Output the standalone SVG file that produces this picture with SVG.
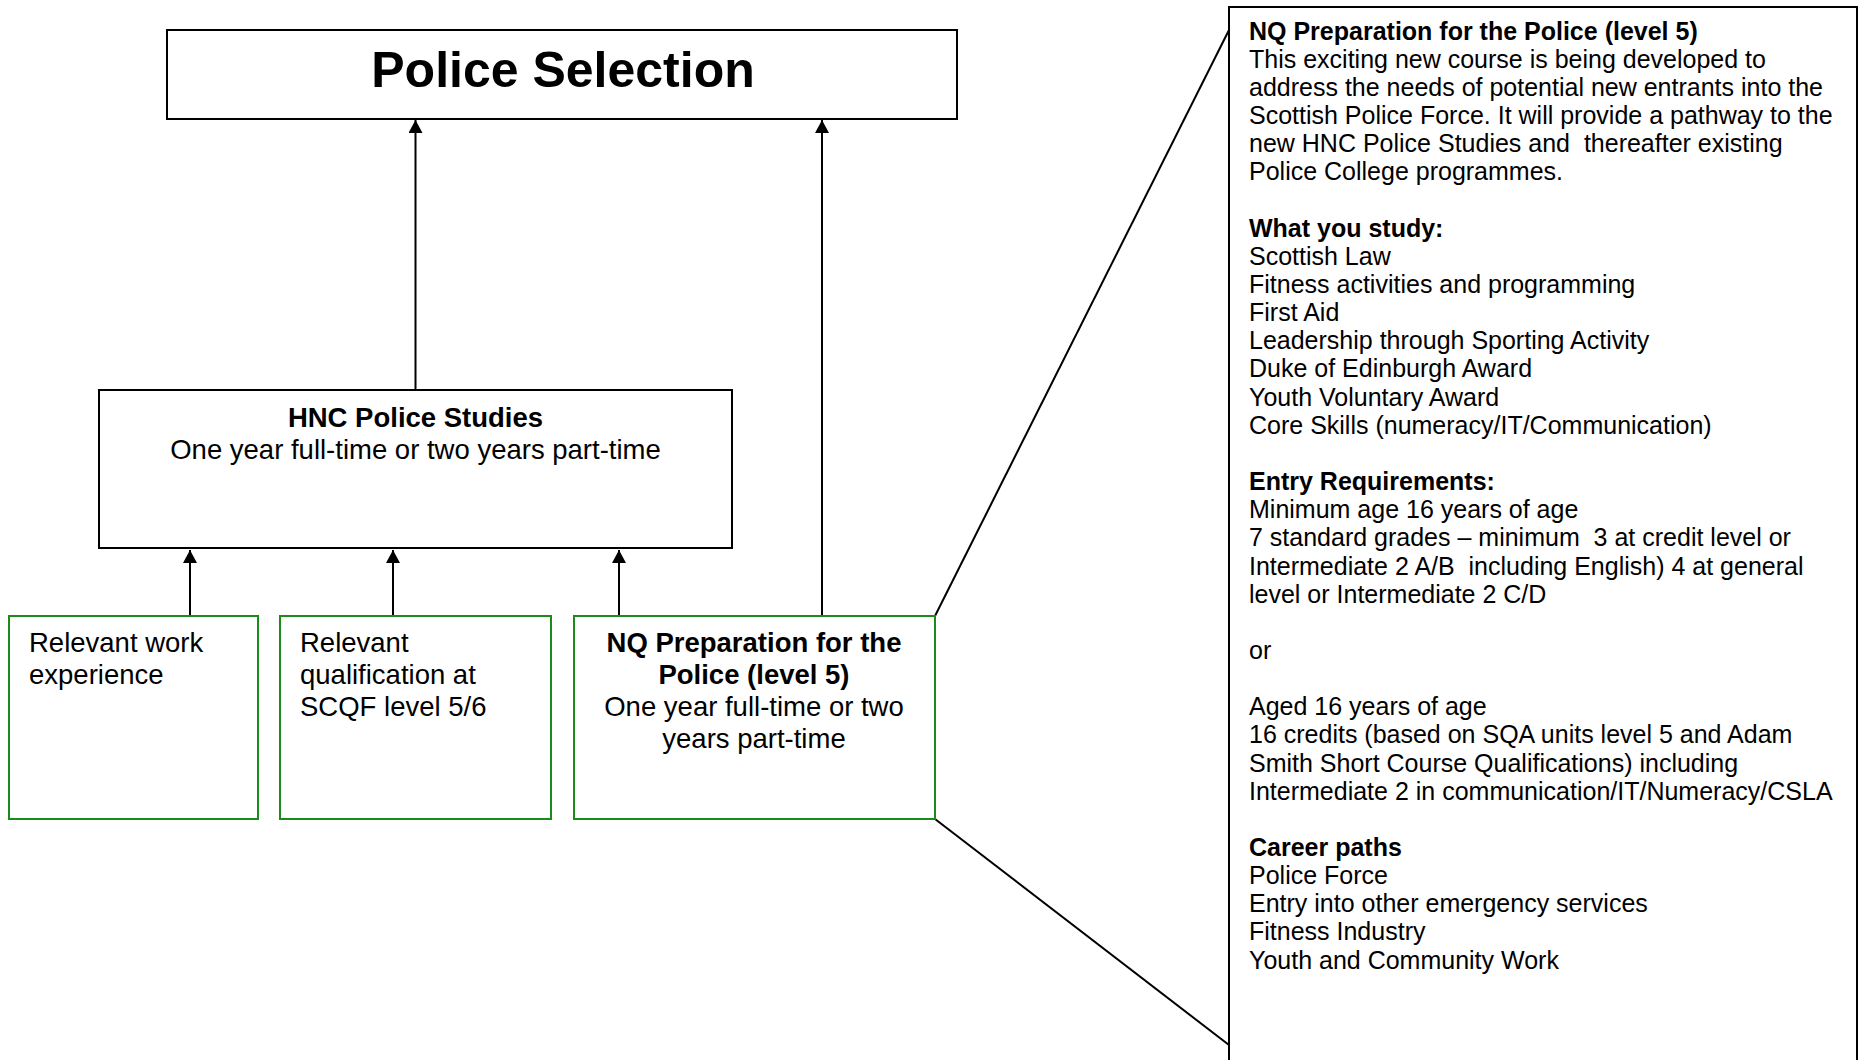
<svg xmlns="http://www.w3.org/2000/svg" width="1862" height="1060" viewBox="0 0 1862 1060">
<defs>
<style>
.box{fill:#fff;stroke:#000;stroke-width:2}
.gbox{fill:#fff;stroke:#1a8c1a;stroke-width:2}
.t{font-family:"Liberation Sans",Arial,sans-serif;fill:#000}
.b{font-weight:bold}
.conn{stroke:#000;stroke-width:2;fill:none}
</style>
<marker id="ah" viewBox="0 0 13 14" refX="13" refY="7" markerWidth="13" markerHeight="14" markerUnits="userSpaceOnUse" orient="auto">
<path d="M0,0 L13,7 L0,14 Z" fill="#000"/>
</marker>
</defs>
<rect width="1862" height="1060" fill="#fff"/>

<g id="connectors">
<line class="conn" x1="415.5" y1="390" x2="415.5" y2="120" marker-end="url(#ah)"/>
<line class="conn" x1="822" y1="616" x2="822" y2="120" marker-end="url(#ah)"/>
<line class="conn" x1="190" y1="616" x2="190" y2="550" marker-end="url(#ah)"/>
<line class="conn" x1="393" y1="616" x2="393" y2="550" marker-end="url(#ah)"/>
<line class="conn" x1="619" y1="616" x2="619" y2="550" marker-end="url(#ah)"/>
<line class="conn" x1="935" y1="616" x2="1229" y2="30"/>
<line class="conn" x1="935" y1="819" x2="1229" y2="1045"/>
</g>

<g id="police-selection">
<rect class="box" x="167" y="30" width="790" height="89"/>
<text class="t b" x="563" y="87" font-size="50" text-anchor="middle">Police Selection</text>
</g>

<g id="hnc">
<rect class="box" x="99" y="390" width="633" height="158"/>
<text class="t" x="415.5" font-size="27.5" text-anchor="middle"><tspan class="b" x="415.5" y="427">HNC Police Studies</tspan><tspan x="415.5" y="459">One year full-time or two years part-time</tspan></text>
</g>

<g id="work-experience">
<rect class="gbox" x="9" y="616" width="249" height="203"/>
<text class="t" font-size="27.5"><tspan x="29" y="652">Relevant work</tspan><tspan x="29" y="684">experience</tspan></text>
</g>

<g id="qualification">
<rect class="gbox" x="280" y="616" width="271" height="203"/>
<text class="t" font-size="27.5"><tspan x="300" y="652">Relevant</tspan><tspan x="300" y="684">qualification at</tspan><tspan x="300" y="716">SCQF level 5/6</tspan></text>
</g>

<g id="nq-prep">
<rect class="gbox" x="574" y="616" width="361" height="203"/>
<text class="t" font-size="27.5" text-anchor="middle"><tspan class="b" x="754" y="652">NQ Preparation for the</tspan><tspan class="b" x="754" y="684">Police (level 5)</tspan><tspan x="754" y="716">One year full-time or two</tspan><tspan x="754" y="748">years part-time</tspan></text>
</g>

<g id="nq-details">
<rect class="box" x="1229" y="7" width="628" height="1070"/>
<text class="t" font-size="25" xml:space="preserve"><tspan class="b" x="1249" y="39.7">NQ Preparation for the Police (level 5)</tspan><tspan x="1249" y="67.8">This exciting new course is being developed to</tspan><tspan x="1249" y="96">address the needs of potential new entrants into the</tspan><tspan x="1249" y="124.1">Scottish Police Force. It will provide a pathway to the</tspan><tspan x="1249" y="152.3">new HNC Police Studies and  thereafter existing</tspan><tspan x="1249" y="180.4">Police College programmes.</tspan><tspan class="b" x="1249" y="236.7">What you study:</tspan><tspan x="1249" y="264.9">Scottish Law</tspan><tspan x="1249" y="293">Fitness activities and programming</tspan><tspan x="1249" y="321.2">First Aid</tspan><tspan x="1249" y="349.3">Leadership through Sporting Activity</tspan><tspan x="1249" y="377.4">Duke of Edinburgh Award</tspan><tspan x="1249" y="405.6">Youth Voluntary Award</tspan><tspan x="1249" y="433.7">Core Skills (numeracy/IT/Communication)</tspan><tspan class="b" x="1249" y="490">Entry Requirements:</tspan><tspan x="1249" y="518.2">Minimum age 16 years of age</tspan><tspan x="1249" y="546.3">7 standard grades – minimum  3 at credit level or</tspan><tspan x="1249" y="574.5">Intermediate 2 A/B  including English) 4 at general</tspan><tspan x="1249" y="602.6">level or Intermediate 2 C/D</tspan><tspan x="1249" y="658.9">or</tspan><tspan x="1249" y="715.2">Aged 16 years of age</tspan><tspan x="1249" y="743.4">16 credits (based on SQA units level 5 and Adam</tspan><tspan x="1249" y="771.5">Smith Short Course Qualifications) including</tspan><tspan x="1249" y="799.7">Intermediate 2 in communication/IT/Numeracy/CSLA</tspan><tspan class="b" x="1249" y="856">Career paths</tspan><tspan x="1249" y="884.1">Police Force</tspan><tspan x="1249" y="912.3">Entry into other emergency services</tspan><tspan x="1249" y="940.4">Fitness Industry</tspan><tspan x="1249" y="968.6">Youth and Community Work</tspan></text>
</g>
</svg>
